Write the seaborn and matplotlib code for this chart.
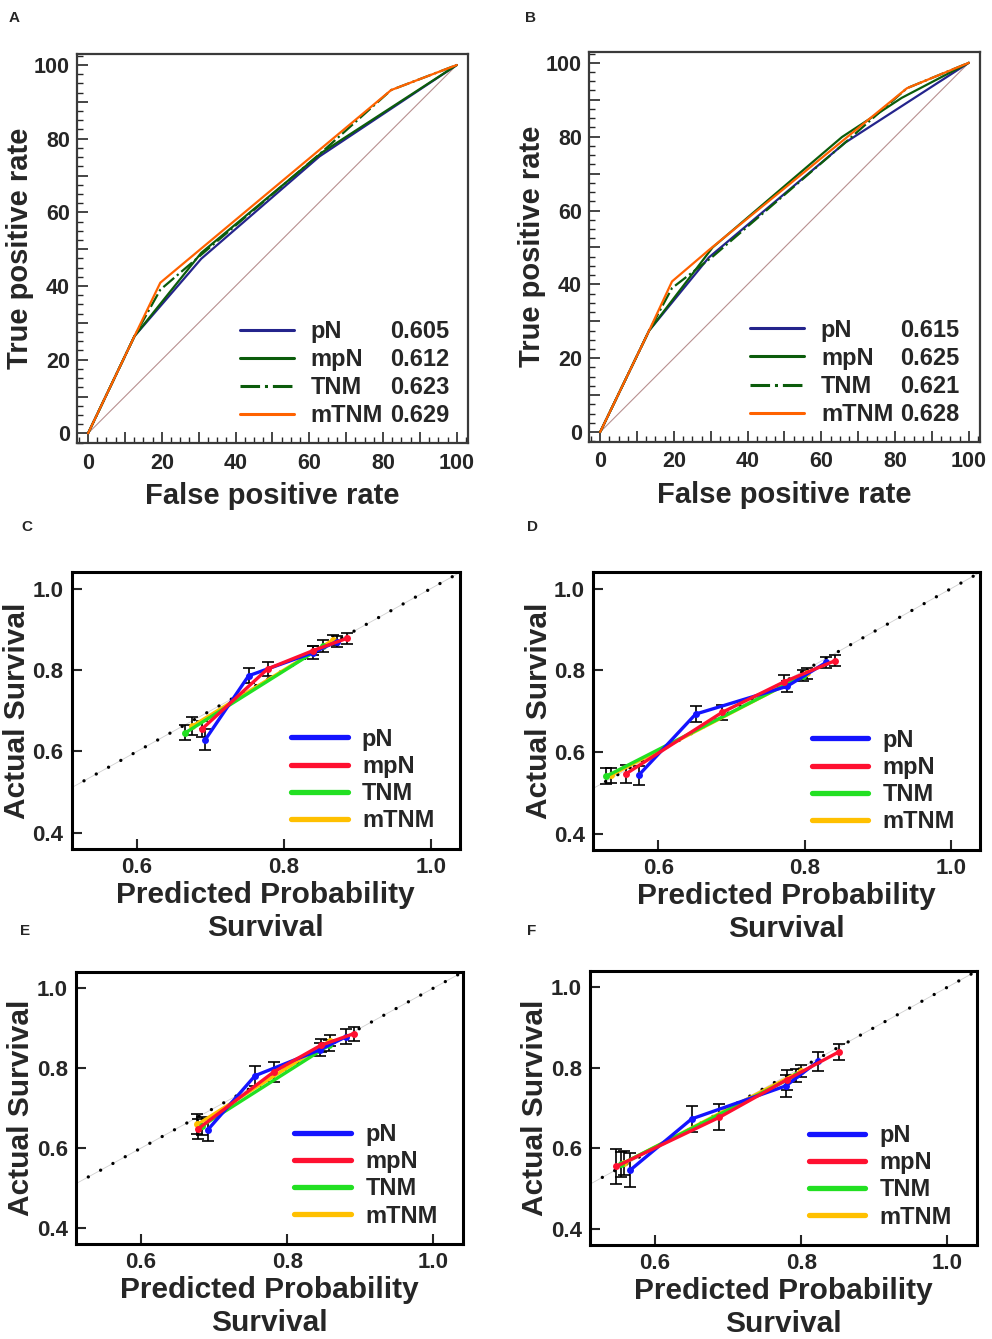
import pandas as pd
import matplotlib
matplotlib.use("Agg")
import matplotlib.pyplot as plt
from matplotlib.lines import Line2D
from matplotlib.ticker import MultipleLocator, FuncFormatter
import seaborn as sns

# --- data ---
models = ["pN", "mpN", "TNM", "mTNM"]

# panel A : ROC (false positive rate, true positive rate, %)
a_fpr = {"pN": [0, 12.6, 30.7, 62.8, 100],
         "mpN": [0, 12.6, 30.7, 63.5, 100],
         "TNM": [0, 12.6, 19.6, 30.7, 63.0, 82.2, 100],
         "mTNM": [0, 12.6, 19.6, 82.2, 100]}
a_tpr = {"pN": [0, 26.4, 47.4, 75.2, 100],
         "mpN": [0, 26.4, 49.0, 76.3, 100],
         "TNM": [0, 26.4, 39.0, 48.5, 76.0, 93.2, 100],
         "mTNM": [0, 26.4, 40.9, 93.2, 100]}
a_auc = ["0.605", "0.612", "0.623", "0.629"]

# panel B : ROC
b_fpr = {"pN": [0, 13.3, 29.5, 66.5, 100],
         "mpN": [0, 13.3, 30.5, 65.6, 81.8, 100],
         "TNM": [0, 13.3, 19.5, 30.5, 66.0, 83.2, 100],
         "mTNM": [0, 13.3, 19.5, 29.5, 83.2, 100]}
b_tpr = {"pN": [0, 27.5, 47.3, 78.4, 100],
         "mpN": [0, 27.5, 50.0, 79.9, 90.5, 100],
         "TNM": [0, 27.5, 39.0, 47.5, 78.0, 93.1, 100],
         "mTNM": [0, 27.5, 40.8, 49.3, 93.1, 100]}
b_auc = ["0.615", "0.625", "0.621", "0.628"]

# panels C-F : calibration (predicted, observed, error)
c_pred = {"pN": [0.693, 0.752, 0.840, 0.872], "mpN": [0.689, 0.778, 0.840, 0.886],
          "TNM": [0.666, 0.854], "mTNM": [0.675, 0.867]}
c_obs = {"pN": [0.629, 0.786, 0.843, 0.870], "mpN": [0.656, 0.803, 0.848, 0.878],
         "TNM": [0.646, 0.859], "mTNM": [0.662, 0.874]}
c_err = {"pN": [0.025, 0.018, 0.015, 0.013], "mpN": [0.020, 0.018, 0.012, 0.013],
         "TNM": [0.018, 0.014], "mTNM": [0.022, 0.013]}

d_pred = {"pN": [0.573, 0.651, 0.776, 0.830], "mpN": [0.556, 0.687, 0.772, 0.842],
          "TNM": [0.529, 0.798], "mTNM": [0.535, 0.804]}
d_obs = {"pN": [0.543, 0.693, 0.761, 0.820], "mpN": [0.547, 0.697, 0.772, 0.824],
         "TNM": [0.541, 0.787], "mTNM": [0.543, 0.793]}
d_err = {"pN": [0.023, 0.019, 0.014, 0.014], "mpN": [0.022, 0.018, 0.016, 0.014],
         "TNM": [0.019, 0.014], "mTNM": [0.019, 0.014]}

e_pred = {"pN": [0.691, 0.756, 0.845, 0.881], "mpN": [0.678, 0.782, 0.846, 0.891],
          "TNM": [0.683, 0.857], "mTNM": [0.677, 0.859]}
e_obs = {"pN": [0.645, 0.781, 0.846, 0.879], "mpN": [0.648, 0.791, 0.857, 0.886],
         "TNM": [0.655, 0.857], "mTNM": [0.659, 0.869]}
e_err = {"pN": [0.027, 0.025, 0.016, 0.019], "mpN": [0.025, 0.025, 0.016, 0.018],
         "TNM": [0.022, 0.014], "mTNM": [0.025, 0.014]}

f_pred = {"pN": [0.566, 0.650, 0.779, 0.823], "mpN": [0.547, 0.688, 0.780, 0.851],
          "TNM": [0.553, 0.793], "mTNM": [0.558, 0.800]}
f_obs = {"pN": [0.546, 0.673, 0.755, 0.816], "mpN": [0.555, 0.677, 0.770, 0.839],
         "TNM": [0.560, 0.781], "mTNM": [0.564, 0.792]}
f_err = {"pN": [0.042, 0.033, 0.027, 0.023], "mpN": [0.043, 0.032, 0.025, 0.019],
         "TNM": [0.030, 0.016], "mTNM": [0.030, 0.016]}

roc_colors = {"pN": "#24248c", "mpN": "#0b5c0b", "TNM": "#0b5c0b", "mTNM": "#ff6200"}
roc_styles = {"pN": "-", "mpN": "-", "TNM": "-.", "mTNM": "-"}
cal_colors = {"pN": "#1414ff", "mpN": "#ff1030", "TNM": "#22e022", "mTNM": "#ffc000"}

sns.set_style("ticks")
plt.rcParams["font.family"] = ["Liberation Sans", "DejaVu Sans"]
plt.rcParams["font.weight"] = "bold"

fig = plt.figure(figsize=(9.92, 13.39), dpi=100)


def roc_panel(rect, fpr, tpr, auc, leg_x, val_x):
    ax = fig.add_axes(rect)
    ax.plot([0, 100], [0, 100], color="#b89090", lw=0.8, zorder=1)
    for m in models:
        df = pd.DataFrame({"fpr": fpr[m], "tpr": tpr[m]})
        sns.lineplot(data=df, x="fpr", y="tpr", sort=False, estimator=None,
                     color=roc_colors[m], linestyle=roc_styles[m], lw=1.6, ax=ax)
    ax.set_xlim(-3, 103)
    ax.set_ylim(-2.6, 103)
    for a in (ax.xaxis, ax.yaxis):
        a.set_major_locator(MultipleLocator(10))
        a.set_minor_locator(MultipleLocator(2.5))
        a.set_major_formatter(FuncFormatter(lambda v, p: f"{v:.0f}" if v % 20 == 0 else ""))
    ax.tick_params(which="major", direction="in", length=8, width=1.2, labelsize=15.5)
    ax.tick_params(axis="x", which="major", pad=7)
    ax.tick_params(axis="y", which="major", pad=5)
    ax.tick_params(which="minor", direction="in", length=4, width=1.0)
    for s in ax.spines.values():
        s.set_linewidth(1.6)
        s.set_color("#3a3a3a")
    ax.set_xlabel("False positive rate", fontsize=21, fontweight="bold", labelpad=6)
    ax.set_ylabel("True positive rate", fontsize=21, fontweight="bold", labelpad=0)
    handles = [Line2D([], [], color=roc_colors[m], ls=roc_styles[m], lw=2.2) for m in models]
    leg = ax.legend(handles, models, loc="lower left", bbox_to_anchor=(leg_x, 0.04),
                    frameon=False, fontsize=17, handlelength=2.3, handletextpad=0.7,
                    labelspacing=0.22, borderpad=0, borderaxespad=0)
    for t in leg.get_texts():
        t.set_fontweight("bold")
    fig.canvas.draw()
    for t, v in zip(leg.get_texts(), auc):
        disp = t.get_transform().transform(t.get_position())
        yy = ax.transAxes.inverted().transform(disp)[1]
        ax.text(val_x, yy, v, transform=ax.transAxes, va="baseline", ha="left",
                fontsize=17, fontweight="bold")
    return ax


def calib_panel(rect, pred, obs, err):
    ax = fig.add_axes(rect)
    ax.axline((0.5, 0.5), slope=1, color="#d0d0d0", lw=0.6, zorder=1)
    ax.axline((0.5, 0.5), slope=1, color="black", lw=2.4, ls=(0, (0.01, 4.2)),
              dash_capstyle="round", zorder=1)
    rows = []
    for m in models:
        for p, o in zip(pred[m], obs[m]):
            rows.append((m, p, o))
        ax.errorbar(pred[m], obs[m], yerr=err[m], fmt="none", ecolor="black",
                    elinewidth=1.2, capsize=4, capthick=1.2, zorder=2)
    df = pd.DataFrame(rows, columns=["model", "pred", "obs"])
    sns.lineplot(data=df, x="pred", y="obs", hue="model",
                 hue_order=["mTNM", "TNM", "pN", "mpN"], palette=cal_colors,
                 sort=False, estimator=None, marker="o", markersize=5,
                 markeredgewidth=0, lw=2.4, legend=False, ax=ax, zorder=3)
    ax.set_xlim(0.511, 1.04)
    ax.set_ylim(0.36, 1.041)
    ax.set_xticks([0.6, 0.8, 1.0])
    ax.set_yticks([0.4, 0.6, 0.8, 1.0])
    ax.xaxis.set_major_formatter(FuncFormatter(lambda v, p: f"{v:.1f}"))
    ax.yaxis.set_major_formatter(FuncFormatter(lambda v, p: f"{v:.1f}"))
    ax.tick_params(direction="in", length=7, width=1.5, labelsize=16, pad=6)
    for s in ax.spines.values():
        s.set_linewidth(2.2)
        s.set_color("black")
    ax.set_xlabel("Predicted Probability\nSurvival", fontsize=21.5, fontweight="bold",
                  labelpad=2, linespacing=1.2)
    ax.set_ylabel("Actual Survival", fontsize=21.5, fontweight="bold", labelpad=1)
    handles = [Line2D([], [], color=cal_colors[m], lw=3.8) for m in models]
    leg = ax.legend(handles, models, loc="lower left", bbox_to_anchor=(0.565, 0.06),
                    frameon=False, fontsize=17, handlelength=2.4, handletextpad=0.6,
                    labelspacing=0.18, borderpad=0, borderaxespad=0)
    for t in leg.get_texts():
        t.set_fontweight("bold")
    return ax


roc_panel([0.0776, 0.6692, 0.394, 0.2905], a_fpr, a_tpr, a_auc, 0.417, 0.80)
roc_panel([0.5938, 0.6701, 0.394, 0.2913], b_fpr, b_tpr, b_auc, 0.412, 0.795)
calib_panel([0.0723, 0.3659, 0.3914, 0.2069], c_pred, c_obs, c_err)
calib_panel([0.5981, 0.3652, 0.3898, 0.2076], d_pred, d_obs, d_err)
calib_panel([0.0766, 0.0709, 0.3898, 0.2034], e_pred, e_obs, e_err)
calib_panel([0.5948, 0.0702, 0.3898, 0.2049], f_pred, f_obs, f_err)

for letter, x, y in [("A", 14, 18), ("B", 531, 18), ("C", 27, 527),
                     ("D", 532, 527), ("E", 25, 931), ("F", 532, 931)]:
    fig.text(x / 992, 1 - y / 1339, letter, fontsize=11, fontweight="bold",
             ha="center", va="center")

fig.savefig("out.png", dpi=100)
